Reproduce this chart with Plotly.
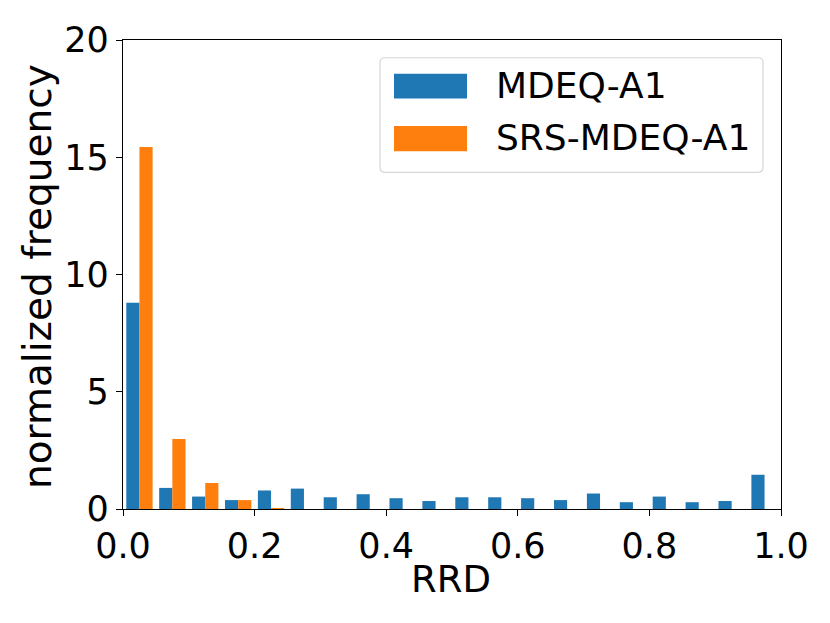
import plotly.graph_objects as go

# ---- data ----
bin_centers = [0.025, 0.075, 0.125, 0.175, 0.225, 0.275, 0.325, 0.375, 0.425, 0.475,
               0.525, 0.575, 0.625, 0.675, 0.725, 0.775, 0.825, 0.875, 0.925, 0.975]
mdeq_a1 = [8.79, 0.90, 0.53, 0.38, 0.79, 0.87, 0.50, 0.63, 0.46, 0.34,
           0.50, 0.50, 0.46, 0.38, 0.66, 0.29, 0.53, 0.29, 0.34, 1.46]
srs_mdeq_a1 = [15.44, 2.98, 1.11, 0.38, 0.02, 0.0, 0.0, 0.0, 0.0, 0.0,
               0.0, 0.0, 0.0, 0.0, 0.0, 0.0, 0.0, 0.0, 0.0, 0.0]
series_names = ["MDEQ-A1", "SRS-MDEQ-A1"]
x_ticks = [0.0, 0.2, 0.4, 0.6, 0.8, 1.0]
x_tick_labels = ["0.0", "0.2", "0.4", "0.6", "0.8", "1.0"]
y_ticks = [0, 5, 10, 15, 20]
y_tick_labels = ["0", "5", "10", "15", "20"]

BLUE = "#1f77b4"
ORANGE = "#ff7f0e"
FONT = "DejaVu Sans"

# page body adds an 8px offset; compensate so the plot area lands where the reference has it
OFF = 8
W, H = 830 - OFF, 623 - OFF
L, R, T, B = 123, 781, 34, 509  # plot area in screen px
PW, PH = R - L, B - T


def px(xp):
    return (xp - L) / PW


def py(yp):
    return (B - yp) / PH


fig = go.Figure()
fig.add_trace(go.Bar(x=bin_centers, y=mdeq_a1, name=series_names[0],
                     marker=dict(color=BLUE, line=dict(width=0)), showlegend=False,
                     hoverinfo="skip"))
fig.add_trace(go.Bar(x=bin_centers, y=srs_mdeq_a1, name=series_names[1],
                     marker=dict(color=ORANGE, line=dict(width=0)), showlegend=False,
                     hoverinfo="skip"))

axis_common = dict(showline=True, linecolor="black", linewidth=1.4, mirror=True,
                   ticks="outside", ticklen=6, tickwidth=1.4, tickcolor="black",
                   showgrid=False, zeroline=False,
                   tickfont=dict(family=FONT, size=35, color="black"))

fig.update_xaxes(range=[0, 1], tickvals=x_ticks, ticktext=x_tick_labels, **axis_common)
fig.update_yaxes(range=[0, 20], tickvals=y_ticks, ticktext=y_tick_labels, **axis_common)

# manual matplotlib-style legend
bx0, bx1, by0, by1, r = 380, 763, 52, 168, 5
path = (f"M {px(bx0 + r)},{py(by0)} L {px(bx1 - r)},{py(by0)} "
        f"Q {px(bx1)},{py(by0)} {px(bx1)},{py(by0 + r)} "
        f"L {px(bx1)},{py(by1 - r)} Q {px(bx1)},{py(by1)} {px(bx1 - r)},{py(by1)} "
        f"L {px(bx0 + r)},{py(by1)} Q {px(bx0)},{py(by1)} {px(bx0)},{py(by1 - r)} "
        f"L {px(bx0)},{py(by0 + r)} Q {px(bx0)},{py(by0)} {px(bx0 + r)},{py(by0)} Z")
shapes = [dict(type="path", xref="paper", yref="paper", path=path,
               line=dict(color="#d6d6d6", width=1.2), fillcolor="rgba(255,255,255,0.8)")]
swatches = [(68.3, 93.3, BLUE), (121, 146.7, ORANGE)]
for (s0, s1, c) in swatches:
    shapes.append(dict(type="rect", xref="paper", yref="paper",
                       x0=px(394), x1=px(467), y0=py(s1), y1=py(s0),
                       line=dict(width=0), fillcolor=c))

annotations = []
for name, (s0, s1, c) in zip(series_names, swatches):
    annotations.append(dict(text=name, xref="paper", yref="paper",
                            x=px(494), y=py((s0 + s1) / 2 - 1), xanchor="left", yanchor="middle",
                            showarrow=False, font=dict(family=FONT, size=36, color="black")))

annotations.append(dict(text="RRD", xref="paper", yref="paper", x=px(451), y=py(580),
                        xanchor="center", yanchor="middle", showarrow=False,
                        font=dict(family=FONT, size=37, color="black")))
annotations.append(dict(text="normalized frequency", xref="paper", yref="paper",
                        x=px(38), y=py(274), xanchor="center", yanchor="middle",
                        textangle=-90, showarrow=False,
                        font=dict(family=FONT, size=39, color="black")))

fig.update_layout(width=W, height=H,
                  margin=dict(l=L - OFF, r=W - (R - OFF), t=T - OFF, b=H - (B - OFF)),
                  plot_bgcolor="white", paper_bgcolor="white",
                  barmode="group", bargap=0.2, bargroupgap=0.0,
                  shapes=shapes, annotations=annotations)

fig.write_html("out.html")
